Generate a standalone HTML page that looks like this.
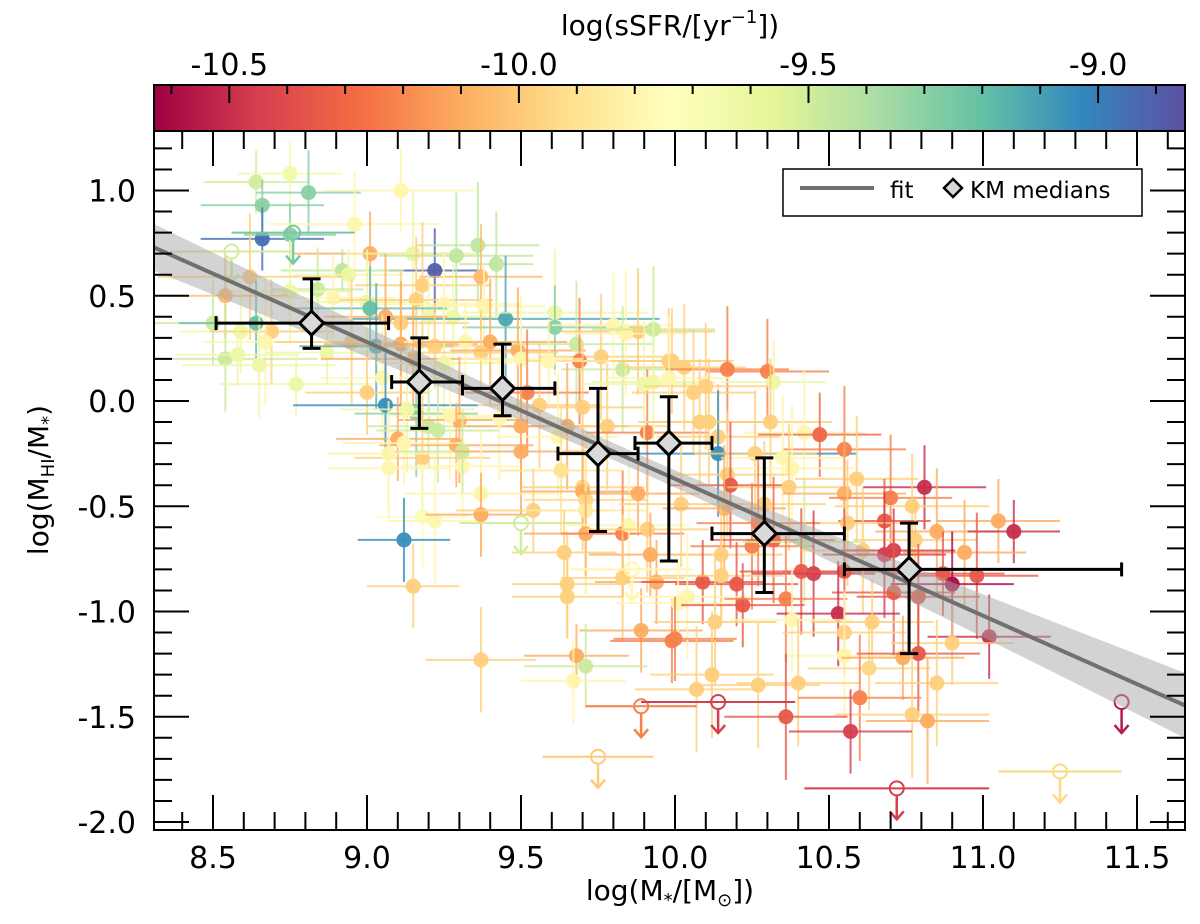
<!DOCTYPE html>
<html><head><meta charset="utf-8"><style>
html,body{margin:0;padding:0;background:#fff;}
svg{display:block;font-family:"DejaVu Sans","Liberation Sans",sans-serif;}
</style></head><body>
<svg id="fig" width="1200" height="924" viewBox="0 0 1200 924" xmlns="http://www.w3.org/2000/svg">
<defs>
<linearGradient id="spectral" x1="0" x2="1" y1="0" y2="0">
<stop offset="0" stop-color="#9e0142"/><stop offset="0.1" stop-color="#d53e4f"/><stop offset="0.2" stop-color="#f46d43"/><stop offset="0.3" stop-color="#fdae61"/><stop offset="0.4" stop-color="#fee08b"/><stop offset="0.5" stop-color="#ffffbf"/><stop offset="0.6" stop-color="#e6f598"/><stop offset="0.7" stop-color="#abdda4"/><stop offset="0.8" stop-color="#66c2a5"/><stop offset="0.9" stop-color="#3288bd"/><stop offset="1" stop-color="#5e4fa2"/>
</linearGradient>
<clipPath id="clip"><rect x="154" y="131" width="1031" height="699"/></clipPath>
</defs>
<g>
<rect x="154" y="85" width="1031" height="46" fill="url(#spectral)" stroke="#000" stroke-width="2"/>
<g id="cbticks"></g>
<text x="670" y="35" font-size="28" text-anchor="middle">log(sSFR/[yr<tspan font-size="18" dy="-12">−1</tspan><tspan dy="12">])</tspan></text>
</g>
<g id="plot" clip-path="url(#clip)"></g>
<g id="axes"></g>
<g>
<rect x="783" y="169" width="359" height="47" fill="#fff" stroke="#000" stroke-width="1.5"/>
<line x1="800" y1="188" x2="874" y2="188" stroke="#707070" stroke-width="4"/>
<text x="890" y="198" font-size="23">fit</text>
<path d="M953 179 L962 188 L953 197 L944 188 Z" fill="#d9d9d9" stroke="#000" stroke-width="2.5"/>
<text x="970" y="198" font-size="23">KM medians</text>
</g>
<text x="670" y="900" font-size="28" text-anchor="middle">log(M<tspan font-size="18" dy="6">*</tspan><tspan dy="-6">/[M</tspan><tspan font-size="18" dy="6">⊙</tspan><tspan dy="-6">])</tspan></text>
<text transform="translate(48,480) rotate(-90)" font-size="28" text-anchor="middle">log(M<tspan font-size="18" dy="6">HI</tspan><tspan dy="-6">/M</tspan><tspan font-size="18" dy="6">*</tspan><tspan dy="-6">)</tspan></text>
</svg>
<script>
// ---- data ----
const detX=[8.64,8.75,8.81,8.66,9.11,8.66,8.75,8.96,9.01,9.15,9.22,9.29,9.36,9.42,9.37,8.92,8.94,8.84,8.75,8.62,8.54,8.89,9.0,9.18,9.16,9.25,9.38,9.2,9.28,9.45,9.61,9.61,9.06,9.01,9.11,8.5,8.64,8.59,8.69,8.67,8.54,8.58,8.65,8.87,8.77,8.95,9.03,9.11,9.22,9.15,9.25,9.32,9.4,9.37,9.49,9.68,9.76,9.69,9.83,9.88,9.8,9.84,9.93,9.98,9.59,9.5,9.05,9.0,9.06,9.16,9.13,9.2,9.23,9.3,9.27,9.52,9.5,9.43,9.56,9.65,9.7,9.62,9.78,9.91,9.9,9.93,9.29,9.1,9.12,9.18,9.07,9.07,9.31,9.31,9.5,9.63,9.7,
9.37,9.18,9.22,9.12,9.37,9.54,9.15,9.37,9.70,9.71,9.71,9.71,9.64,9.65,9.65,9.83,9.85,9.88,9.91,9.92,9.94,9.83,9.89,9.99,9.68,9.71,9.67,
9.99,10.03,10.17,10.3,10.32,10.1,10.06,9.98,10.08,10.11,10.14,10.14,10.31,10.42,10.47,10.55,10.26,10.35,10.38,10.17,10.18,10.37,10.59,10.55,10.02,10.16,10.29,10.7,10.81,10.77,10.68,10.56,10.78,10.85,11.05,11.1,10.94,10.25,10.15,10.27,10.32,10.42,10.41,10.45,10.55,10.61,10.68,10.71,10.87,10.98,10.9,10.09,10.15,10.2,10.04,10.01,10.22,10.36,10.71,10.79,10.53,10.38,10.13,10.0,10.55,10.64,11.02,10.9,10.55,10.63,10.74,10.79,10.12,10.07,10.27,10.4,10.85,10.6,10.36,10.77,10.82,10.57];
const detY=[1.04,1.08,0.99,0.93,1.0,0.77,0.79,0.84,0.70,0.70,0.62,0.69,0.74,0.65,0.59,0.62,0.60,0.53,0.52,0.59,0.50,0.49,0.47,0.55,0.48,0.46,0.45,0.40,0.40,0.39,0.42,0.35,0.40,0.44,0.37,0.37,0.37,0.33,0.33,0.28,0.20,0.22,0.17,0.23,0.08,0.28,0.26,0.27,0.26,0.20,0.18,0.28,0.28,0.23,0.24,0.27,0.21,0.19,0.15,0.33,0.36,0.32,0.34,0.19,0.19,0.20,0.11,0.04,-0.02,-0.06,-0.04,-0.12,-0.14,-0.09,-0.07,0.04,-0.12,-0.08,-0.02,-0.12,-0.03,-0.17,-0.12,-0.15,0.08,0.09,-0.21,-0.18,-0.20,-0.27,-0.25,-0.32,-0.31,-0.24,-0.24,-0.33,-0.41,
-0.44,-0.55,-0.57,-0.66,-0.54,-0.52,-0.88,-1.23,-0.43,-0.47,-0.52,-0.63,-0.72,-0.87,-0.93,-0.63,-0.59,-0.44,-0.61,-0.73,-0.86,-0.84,-1.09,-1.14,-1.21,-1.26,-1.33,
0.19,0.16,0.15,0.14,0.09,0.07,0.04,0.11,-0.10,-0.10,-0.17,-0.25,-0.10,-0.15,-0.16,-0.23,-0.25,-0.27,-0.32,-0.35,-0.40,-0.41,-0.37,-0.44,-0.49,-0.51,-0.49,-0.46,-0.41,-0.50,-0.57,-0.58,-0.66,-0.62,-0.57,-0.62,-0.72,-0.69,-0.73,-0.58,-0.66,-0.67,-0.81,-0.82,-0.81,-0.71,-0.73,-0.71,-0.82,-0.83,-0.87,-0.86,-0.83,-0.87,-0.93,-0.96,-0.97,-0.94,-0.91,-0.93,-1.01,-1.04,-1.05,-1.13,-1.10,-1.05,-1.12,-1.15,-1.21,-1.27,-1.22,-1.20,-1.30,-1.37,-1.35,-1.34,-1.34,-1.41,-1.50,-1.49,-1.52,-1.57];
const detS=[-9.5,-9.65,-9.3,-9.3,-9.8,-8.95,-9.3,-9.8,-10.1,-9.6,-8.9,-9.45,-9.45,-9.45,-10.05,-9.45,-9.62,-9.48,-9.62,-9.98,-10.05,-9.8,-9.62,-9.98,-9.98,-9.8,-9.8,-9.62,-9.62,-9.12,-9.62,-9.3,-10.1,-9.2,-9.98,-9.48,-9.2,-9.62,-9.98,-9.8,-9.48,-9.62,-9.62,-9.62,-9.62,-9.98,-9.15,-10.1,-9.98,-10.1,-9.62,-9.8,-10.1,-9.98,-10.1,-9.48,-9.98,-10.22,-9.48,-10.0,-9.8,-9.8,-9.48,-9.98,-9.8,-9.8,-9.8,-9.98,-9.05,-9.3,-9.62,-9.48,-9.48,-10.1,-9.8,-10.22,-10.1,-9.8,-9.98,-10.1,-9.98,-9.8,-9.98,-10.22,-9.62,-9.62,-10.1,-10.1,-9.8,-9.98,-9.8,-9.8,-9.8,-9.48,-10.1,-9.9,-9.98,
-9.8,-9.7,-9.8,-9.05,-10.1,-9.98,-9.98,-9.98,-10.1,-9.95,-9.85,-10.1,-9.98,-9.98,-9.98,-10.22,-9.8,-10.1,-9.98,-10.1,-10.1,-9.98,-10.1,-10.22,-10.1,-9.48,-9.8,
-9.98,-9.98,-10.22,-10.22,-9.62,-9.98,-9.98,-9.8,-9.98,-9.98,-9.98,-9.05,-9.98,-9.8,-10.3,-10.22,-9.98,-9.8,-9.8,-9.98,-10.35,-9.98,-9.98,-10.1,-9.98,-10.1,-9.98,-10.22,-10.5,-9.98,-10.35,-9.98,-9.98,-10.1,-10.1,-10.5,-10.1,-10.22,-9.98,-10.22,-10.3,-9.5,-10.35,-10.45,-10.35,-9.98,-10.45,-10.45,-10.35,-10.35,-10.6,-10.35,-9.98,-10.35,-9.8,-9.8,-10.35,-10.22,-10.35,-10.35,-10.5,-9.8,-9.98,-10.22,-9.98,-9.98,-10.5,-9.98,-9.8,-9.95,-10.1,-10.35,-9.98,-9.98,-9.98,-9.98,-9.98,-10.22,-10.35,-9.98,-10.1,-10.45];
const detXe=[0.17,0.17,0.17,0.2,0.25,0.2,0.15,0.28,0.25,0.22,0.15,0.25,0.2,0.12,0.2,0.2,0.18,0.15,0.2,0.3,0.2,0.2,0.2,0.22,0.25,0.25,0.2,0.2,0.2,0.5,0.3,0.3,0.2,0.25,0.22,0.2,0.25,0.2,0.2,0.2,0.3,0.2,0.25,0.2,0.25,0.25,0.25,0.25,0.2,0.3,0.22,0.2,0.25,0.25,0.22,0.25,0.2,0.2,0.2,0.25,0.2,0.2,0.2,0.2,0.22,0.2,0.2,0.2,0.3,0.2,0.22,0.2,0.2,0.2,0.2,0.2,0.22,0.2,0.2,0.2,0.2,0.2,0.2,0.2,0.2,0.2,0.25,0.2,0.2,0.22,0.2,0.2,0.2,0.22,0.22,0.2,0.2,
0.25,0.15,0.15,0.15,0.18,0.25,0.15,0.18,0.2,0.2,0.2,0.2,0.17,0.18,0.18,0.2,0.2,0.2,0.2,0.2,0.2,0.2,0.2,0.2,0.17,0.2,0.17,
0.2,0.2,0.2,0.2,0.17,0.2,0.2,0.2,0.2,0.2,0.2,0.45,0.2,0.2,0.2,0.2,0.2,0.2,0.2,0.2,0.2,0.2,0.2,0.2,0.2,0.2,0.2,0.2,0.2,0.25,0.15,0.2,0.2,0.2,0.2,0.15,0.2,0.2,0.2,0.2,0.2,0.2,0.2,0.2,0.2,0.2,0.2,0.2,0.2,0.2,0.2,0.2,0.2,0.2,0.2,0.2,0.2,0.2,0.2,0.2,0.2,0.2,0.2,0.2,0.2,0.2,0.2,0.2,0.2,0.2,0.2,0.2,0.2,0.2,0.2,0.2,0.2,0.2,0.2,0.25,0.2,0.2,0.15,0.2,0.25];
const detYe=[0.15,0.15,0.2,0.12,0.2,0.15,0.15,0.25,0.2,0.3,0.2,0.3,0.3,0.25,0.25,0.1,0.12,0.2,0.25,0.3,0.2,0.2,0.25,0.3,0.3,0.25,0.2,0.2,0.25,0.3,0.3,0.2,0.3,0.2,0.25,0.2,0.2,0.2,0.25,0.3,0.25,0.15,0.25,0.15,0.15,0.3,0.3,0.3,0.2,0.25,0.3,0.2,0.3,0.2,0.3,0.3,0.3,0.3,0.3,0.3,0.25,0.3,0.3,0.25,0.2,0.3,0.3,0.2,0.25,0.3,0.3,0.2,0.25,0.3,0.3,0.3,0.3,0.3,0.3,0.3,0.3,0.3,0.3,0.3,0.3,0.3,0.2,0.2,0.2,0.3,0.25,0.25,0.25,0.2,0.3,0.3,0.3,
0.3,0.25,0.3,0.2,0.2,0.2,0.2,0.25,0.2,0.3,0.4,0.2,0.2,0.25,0.2,0.3,0.3,0.2,0.3,0.2,0.2,0.3,0.2,0.2,0.15,0.2,0.2,
0.25,0.3,0.3,0.25,0.2,0.3,0.3,0.3,0.3,0.3,0.25,0.3,0.3,0.3,0.2,0.3,0.3,0.3,0.3,0.3,0.3,0.3,0.3,0.3,0.3,0.3,0.3,0.3,0.2,0.25,0.2,0.3,0.2,0.3,0.2,0.15,0.25,0.3,0.3,0.3,0.3,0.3,0.3,0.3,0.3,0.3,0.3,0.2,0.2,0.3,0.25,0.2,0.2,0.2,0.3,0.2,0.2,0.3,0.3,0.25,0.25,0.25,0.3,0.2,0.2,0.2,0.2,0.2,0.3,0.2,0.2,0.3,0.3,0.3,0.3,0.3,0.3,0.3,0.3,0.3,0.3,0.2,0.2,0.3,0.3,0.3];
const ulX=[8.56,8.76,9.5,9.86,9.89,9.75,10.14,11.45,10.72,11.25];
const ulY=[0.71,0.80,-0.58,-0.80,-1.45,-1.69,-1.43,-1.43,-1.84,-1.76];
const ulS=[-9.5,-9.25,-9.5,-9.8,-10.22,-10.0,-10.45,-10.55,-10.45,-9.95];
const ulXe=[0.2,0.2,0.2,0.2,0.18,0.18,0.25,0.0,0.3,0.2];
const kmX=[8.82,9.17,9.44,9.75,9.98,10.29,10.76];
const kmY=[0.37,0.09,0.06,-0.25,-0.20,-0.63,-0.80];
const kmXlo=[8.51,9.08,9.31,9.62,9.87,10.12,10.55];
const kmXhi=[9.07,9.31,9.61,9.88,10.12,10.55,11.45];
const kmYlo=[0.25,-0.13,-0.07,-0.62,-0.76,-0.91,-1.20];
const kmYhi=[0.58,0.30,0.27,0.06,0.02,-0.27,-0.58];
const fitSlope=-0.65, fitPivot=10.0, fitAtPivot=-0.37;
const xTicks=[8.5,9.0,9.5,10.0,10.5,11.0,11.5];
const yTicks=[-2.0,-1.5,-1.0,-0.5,0.0,0.5,1.0];
const cbTicks=[-10.5,-10.0,-9.5,-9.0];
// ---- scales ----
const xp=v=>213+(v-8.5)*308;
const yp=v=>401-v*210.5;
const cbMin=-10.63, cbMax=-8.85;
const cbp=v=>154+(v-cbMin)/(cbMax-cbMin)*1031;
const stops=["#9e0142","#d53e4f","#f46d43","#fdae61","#fee08b","#ffffbf","#e6f598","#abdda4","#66c2a5","#3288bd","#5e4fa2"];
function hex(h){return [1,3,5].map(i=>parseInt(h.substr(i,2),16));}
function cmap(v){let t=(v-cbMin)/(cbMax-cbMin);t=Math.max(0,Math.min(1,t));const f=t*10,i=Math.min(9,Math.floor(f)),r=f-i;const a=hex(stops[i]),b=hex(stops[i+1]);return 'rgb('+a.map((c,k)=>Math.round(c+(b[k]-c)*r)).join(',')+')';}
const NS='http://www.w3.org/2000/svg';
function mk(tag,attrs,parent){const e=document.createElementNS(NS,tag);for(const k in attrs)e.setAttribute(k,attrs[k]);parent.appendChild(e);return e;}
const plot=document.getElementById('plot'), axes=document.getElementById('axes'), cbt=document.getElementById('cbticks');
// detections
for(let i=0;i<detX.length;i++){
  const c=cmap(detS[i]),x=xp(detX[i]),y=yp(detY[i]);
  const g=mk('g',{},plot);
  
  
  mk('line',{x1:xp(detX[i]-detXe[i]),x2:xp(detX[i]+detXe[i]),y1:y,y2:y,stroke:c,'stroke-width':2,'stroke-opacity':0.8},g);
  mk('line',{x1:x,x2:x,y1:yp(detY[i]+detYe[i]),y2:yp(detY[i]-detYe[i]),stroke:c,'stroke-width':2,'stroke-opacity':0.8},g);
  mk('circle',{cx:x,cy:y,r:7.5,fill:c,'fill-opacity':0.95},g);
}
// upper limits
for(let i=0;i<ulX.length;i++){
  const c=cmap(ulS[i]),x=xp(ulX[i]),y=yp(ulY[i]);
  const g=mk('g',{fill:'none',stroke:c,'stroke-width':2},plot);
  
  
  if(ulXe[i]>0)mk('line',{x1:xp(ulX[i]-ulXe[i]),x2:xp(ulX[i]+ulXe[i]),y1:y,y2:y},g);
  mk('circle',{cx:x,cy:y,r:7},g);
  mk('line',{x1:x,x2:x,y1:y+7,y2:y+31,'stroke-width':2.5},g);
  mk('path',{d:`M${x-7} ${y+23} L${x} ${y+31} L${x+7} ${y+23}`,'stroke-width':2.5},g);
}
// fit band + line
const fitF=v=>fitAtPivot+fitSlope*(v-fitPivot);
const hw=v=>Math.sqrt(0.04*0.04+Math.pow((v<9.9?0.065:0.085)*(v-9.9),2));
let up=[],lo=[];
for(let v=8.2;v<=11.8;v+=0.05){up.push(xp(v)+','+yp(fitF(v)+hw(v)));lo.unshift(xp(v)+','+yp(fitF(v)-hw(v)));}
const band=mk('polygon',{points:up.concat(lo).join(' '),fill:'#a8a8a8','fill-opacity':0.5},plot);


const fl=mk('line',{x1:xp(8.2),y1:yp(fitF(8.2)),x2:xp(11.8),y2:yp(fitF(11.8)),stroke:'#707070','stroke-width':4},plot);


// KM medians
for(let i=0;i<kmX.length;i++){
  const x=xp(kmX[i]),y=yp(kmY[i]);
  const g=mk('g',{stroke:'#000','stroke-width':3,fill:'none'},plot);
  
  
  const xl=xp(kmXlo[i]),xh=xp(kmXhi[i]),yl=yp(kmYlo[i]),yh=yp(kmYhi[i]);
  mk('line',{x1:xl,x2:xh,y1:y,y2:y},g);
  mk('line',{x1:xl,x2:xl,y1:y-7,y2:y+7},g);
  mk('line',{x1:xh,x2:xh,y1:y-7,y2:y+7},g);
  mk('line',{x1:x,x2:x,y1:yh,y2:yl},g);
  mk('line',{x1:x-9,x2:x+9,y1:yh,y2:yh},g);
  mk('line',{x1:x-9,x2:x+9,y1:yl,y2:yl},g);
  mk('path',{d:`M${x} ${y-12} L${x+12} ${y} L${x} ${y+12} L${x-12} ${y} Z`,fill:'#d9d9d9'},g);
}
// axes frame & ticks
const L=154,R=1185,T=131,B=830;
const fr=mk('rect',{x:L,y:T,width:R-L,height:B-T,fill:'none',stroke:'#000','stroke-width':2},axes);


for(let k=84;k<=116;k++){const v=k/10,x=xp(v);if(x<L||x>R)continue;const maj=(k%5===0),len=maj?35:18;
  mk('line',{x1:x,x2:x,y1:B,y2:B-len,stroke:'#000','stroke-width':2},axes);
  mk('line',{x1:x,x2:x,y1:T,y2:T+len,stroke:'#000','stroke-width':2},axes);}
for(let k=-20;k<=12;k++){const v=k/10,y=yp(v);if(y<T||y>B)continue;const maj=(k%5===0),len=maj?35:18;
  mk('line',{x1:L,x2:L+len,y1:y,y2:y,stroke:'#000','stroke-width':2},axes);
  mk('line',{x1:R,x2:R-len,y1:y,y2:y,stroke:'#000','stroke-width':2},axes);}
for(const v of xTicks){const t=mk('text',{x:xp(v),y:868,'font-size':30,'text-anchor':'middle'},axes);t.textContent=v.toFixed(1);
  
  }
for(const v of yTicks){const t=mk('text',{x:136,y:yp(v)+11,'font-size':30,'text-anchor':'end'},axes);t.textContent=v.toFixed(1);
  
  }
// colorbar ticks
for(let k=-106;k<=-89;k++){const v=k/10,x=cbp(v);if(x<155||x>1184)continue;const maj=(k%5===0);
  mk('line',{x1:x,x2:x,y1:85,y2:85+(maj?18:9),stroke:'#000','stroke-width':2},cbt);}
for(const v of cbTicks){const t=mk('text',{x:cbp(v),y:75,'font-size':30,'text-anchor':'middle'},cbt);t.textContent=v.toFixed(1);
  
  }
</script>
</body></html>
